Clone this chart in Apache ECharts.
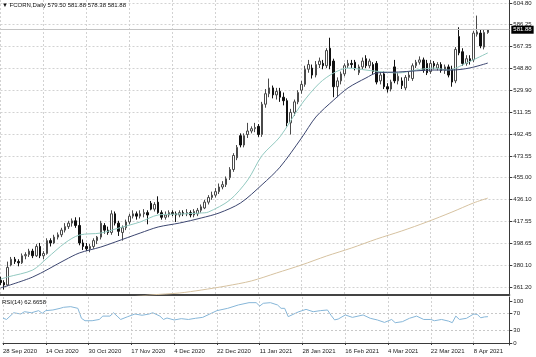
<!DOCTYPE html>
<html><head><meta charset="utf-8">
<script src="https://cdn.jsdelivr.net/npm/echarts@6/dist/echarts.min.js"></script>
<style>html,body{margin:0;padding:0;background:#fff}#c{width:536px;height:357px}</style>
</head><body><div id="c"></div>
<script>
// trading days per month (category data)
const monthDays = [
  ['Sep 2020', [28,29,30]],
  ['Oct 2020', [1,2,5,6,7,8,9,12,13,14,15,16,19,20,21,22,23,26,27,28,29,30]],
  ['Nov 2020', [2,3,4,5,6,9,10,11,12,13,16,17,18,19,20,23,24,25,27,30]],
  ['Dec 2020', [1,2,3,4,7,8,9,10,11,14,15,16,17,18,21,22,23,24,28,29,30,31]],
  ['Jan 2021', [4,5,6,7,8,11,12,13,14,15,19,20,21,22,25,26,27,28,29]],
  ['Feb 2021', [1,2,3,4,5,8,9,10,11,12,16,17,18,19,22,23,24,25,26]],
  ['Mar 2021', [1,2,3,4,5,8,9,10,11,12,15,16,17,18,19,22,23,24,25,26,29,30,31]],
  ['Apr 2021', [1,5,6,7,8,9,12,13,14]]
];
const dates = [];
monthDays.forEach(([m, ds]) => ds.forEach(d => dates.push(d + ' ' + m)));

const opens = [367,365,363,380,385,383,382,388,389,392,388,396,388,390,401,399,404,406,410,413,
416,418,414,399,396,394,396,401,404,414,410,408,424,416,408,412,417,422,424,422,
424,425,433,428,434,425,421,423,425,424,423,425,424,425,423,424,427,429,434,438,
440,443,447,449,455,462,472,491,483,492,495,497,499,492,518,527,532,526,529,524,
521,502,511,520,530,535,548,549,543,552,553,551,566,555,533,538,544,551,553,554,
545,550,557,551,552,553,538,544,533,531,550,538,538,532,541,540,551,554,556,553,
546,553,549,552,547,550,548,538,576,563,553,557,556,578,579,567,579.50];
const highs = [370,367,383,387,387,385,390,391,394,394,398,399,392,403,403,406,408,412,416,418,
420,421,421,402,399,398,403,405,418,416,413,427,426,418,414,419,424,427,426,427,
428,427,435,434,439,427,426,427,427,426,427,427,428,427,428,429,432,436,440,443,
446,450,452,456,464,476,483,493,493,502,499,502,501,520,531,540,534,532,532,528,
523,514,522,530,538,551,556,552,555,558,556,566,575,557,541,546,553,556,556,556,
552,558,560,557,554,555,545,546,536,539,556,545,541,543,546,553,556,559,558,556,
556,555,554,554,552,552,551,567,584,566,560,560,581,594,582,582,581.88];
const lows = [363,359,362,379,381,379,381,385,387,386,387,386,385,389,396,398,402,404,408,411,
413,412,397,393,392,391,394,398,402,407,406,406,414,405,401,410,415,420,419,420,
421,415,427,426,424,419,419,421,422,417,421,422,422,421,421,422,425,428,432,436,
438,441,445,447,453,460,470,481,481,489,493,494,490,490,515,524,523,522,520,517,
499,492,508,518,527,533,545,540,541,549,548,549,548,524,524,535,542,549,549,547,
543,548,549,549,544,535,535,531,528,529,536,535,531,530,538,538,549,552,545,543,
544,548,547,545,544,541,533,536,560,551,551,552,554,576,566,565,578.38];
const closes = [365,363,378,385,383,382,388,389,392,388,396,388,390,401,399,404,406,410,413,416,
418,414,399,396,394,396,401,404,416,410,408,424,416,409,412,417,422,424,422,424,
425,423,428,432,425,421,423,425,424,423,425,424,425,423,426,427,430,434,438,440,
443,447,449,454,462,474,481,483,491,495,497,498,492,518,527,532,526,529,524,521,
502,511,520,528,535,548,552,543,552,555,551,564,551,533,538,544,551,553,552,549,
550,555,551,555,546,537,543,533,531,537,538,542,534,541,543,551,554,556,547,545,
553,551,552,547,550,543,537,565,562,553,557,555,579,580,568,579.5,581.88];

// moving averages: [bar index, value]
const maFast = [[0,368],[2,369.8],[9,375.8],[13,386],[18,399],[22,405.8],[28,407.5],[33,411.8],[39,417],[44,423],[50,423.8],[56,424.7],[58,425.5],[64,435.8],[69,453],[73,474],[78,490],[84,518],[89,536],[93,544.8],[97,549],[102,547.3],[107,545.6],[111,544.8],[116,547.3],[121,549],[125,547.3],[130,553.3],[136,562]];
const maSlow = [[0,360.4],[9,369.8],[18,384.4],[22,390.4],[28,395.5],[32,399.8],[39,407.5],[44,412.7],[50,416.1],[56,420.4],[61,424.7],[67,433.3],[73,449],[78,464],[84,489],[88,507],[93,521.6],[97,532],[102,540.5],[105,544.8],[111,545.6],[121,547.3],[126,547.3],[131,549.1],[136,553.3]];
const maLong = [[36,352.6],[42,354.4],[50,356.1],[56,358.6],[63,362.1],[70,366.4],[77,373.2],[84,380.1],[91,387.8],[98,394.7],[105,402.4],[112,409.3],[119,417],[126,425.5],[132,433.3],[136,437.5]];

const rsiPts = [[0,59],[1,56],[3,72],[5,69],[6,74.5],[8,72],[10,77],[11,70.7],[12,77],[14,78.6],[16,82.5],[17,85],[19,86.5],[21,82.5],[22,58.8],[23,53],[25,53],[27,56],[28,64],[30,64],[31,72],[32,64],[33,56],[35,62.7],[37,69],[39,66],[41,69],[42,72],[44,64],[45,56],[46,59.5],[48,54.8],[50,57.9],[52,56],[54,58.8],[56,61],[58,69],[60,77],[63,82.5],[66,90.5],[69,96],[71,96],[72,88],[73,94.5],[75,96],[77,90.5],[78,82.5],[79,82.5],[80,62.7],[82,70.7],[83,74.5],[85,80],[87,74.5],[89,77],[91,78.6],[92,66],[93,55],[94,57],[96,66.7],[98,61],[101,66.7],[103,58.8],[105,54.8],[107,49],[109,56],[110,48.3],[112,50.7],[114,58.8],[116,64],[118,56],[120,56],[121,53],[123,56],[125,52],[126,48.3],[127,64],[128,56],[130,58.8],[132,69],[133,68],[134,60],[135,62],[136,62.6658]];

const priceTicks = [604.80,586.25,567.35,548.80,529.90,511.35,492.45,473.55,455.00,436.10,417.55,398.65,380.10,361.20];
const rsiTicks = [0,30,70,100];
const rsiLevels = [30,70];

const N = 143;
const cats = dates.concat(new Array(N - dates.length).fill(''));
const ohlc = opens.map((o,i) => [o, closes[i], lows[i], highs[i]]);
const last = dates.length - 1;
const FONT = 'Liberation Sans, DejaVu Sans, sans-serif';
const gridStyle = {color:'#d2d2d2', type:[2,2], width:1};
const axisCol = '#3a3a3a';

const chart = echarts.init(document.getElementById('c'));
chart.setOption({
  animation:false,
  textStyle:{fontFamily:FONT},
  title:[
    {text:'\u25BC FCORN,Daily ' + [opens[last],highs[last],lows[last],closes[last]].map(v=>v.toFixed(2)).join(' '),
     left:2, top:2, padding:0, textStyle:{fontSize:6, fontWeight:'normal', color:'#111', fontFamily:FONT}},
    {text:'RSI(14) ' + rsiPts[rsiPts.length-1][1].toFixed(4),
     left:2, top:299, padding:0, textStyle:{fontSize:6, fontWeight:'normal', color:'#111', fontFamily:FONT}}
  ],
  grid:[{left:0.5, top:0, width:508.8, height:295},{left:0.5, top:297, width:508.8, height:48}],
  xAxis:[
    {type:'category', gridIndex:0, data:cats, boundaryGap:false,
     axisLine:{show:true, lineStyle:{color:'#444', width:2}}, axisTick:{show:false}, axisLabel:{show:false},
     splitLine:{show:true, interval:11, lineStyle:gridStyle}},
    {type:'category', gridIndex:1, data:cats, boundaryGap:false,
     axisLine:{show:true, lineStyle:{color:axisCol}}, axisTick:{show:true, interval:11, length:2, lineStyle:{color:axisCol}},
     axisLabel:{interval:11, align:'left', fontSize:6, color:'#222', margin:3, fontFamily:FONT},
     splitLine:{show:true, interval:11, lineStyle:gridStyle}}
  ],
  yAxis:[
    {type:'value', gridIndex:0, position:'right', min:354.36, max:607.37, scale:true,
     axisLine:{show:true, lineStyle:{color:axisCol}},
     axisTick:{show:true, length:3, customValues:priceTicks, lineStyle:{color:axisCol}},
     axisLabel:{customValues:priceTicks, formatter:v=>Number(v).toFixed(2), fontSize:6, color:'#222', margin:4, fontFamily:FONT},
     splitLine:{show:true, lineStyle:gridStyle}},
    {type:'value', gridIndex:1, position:'right', min:-4.8, max:109.5,
     axisLine:{show:true, lineStyle:{color:axisCol}},
     axisTick:{show:true, length:3, customValues:rsiTicks, lineStyle:{color:axisCol}},
     axisLabel:{customValues:rsiTicks, fontSize:6, color:'#222', margin:4, fontFamily:FONT},
     splitLine:{show:false}}
  ],
  series:[
    {type:'candlestick', xAxisIndex:0, yAxisIndex:0, data:ohlc, barWidth:2,
     itemStyle:{color:'#ffffff', color0:'#111111', borderColor:'#4a4a4a', borderColor0:'#111111', borderWidth:1},
     markLine:{silent:true, symbol:['none','none'], animation:false,
       lineStyle:{color:'#c4c4c4', type:'solid', width:1},
       label:{position:'end', distance:2, formatter:p=>Number(p.value).toFixed(2), backgroundColor:'#000', color:'#fff', fontSize:6, padding:[1,2,1,2], fontFamily:FONT},
       data:[{yAxis:closes[last]}]}},
    {type:'line', xAxisIndex:0, yAxisIndex:0, data:maLong, showSymbol:false, smooth:0.3, lineStyle:{color:'#d6c2a0', width:1}},
    {type:'line', xAxisIndex:0, yAxisIndex:0, data:maFast, showSymbol:false, smooth:0.3, lineStyle:{color:'#92c9c0', width:1}},
    {type:'line', xAxisIndex:0, yAxisIndex:0, data:maSlow, showSymbol:false, smooth:0.3, lineStyle:{color:'#3c4670', width:1}},
    {type:'line', xAxisIndex:1, yAxisIndex:1, data:rsiPts, showSymbol:false, lineStyle:{color:'#86b6d8', width:1},
     markLine:{silent:true, symbol:['none','none'], label:{show:false}, lineStyle:{color:'#c8c8c8', type:[2,2], width:1},
       data:rsiLevels.map(v=>({yAxis:v}))}}
  ]
});
</script></body></html>
